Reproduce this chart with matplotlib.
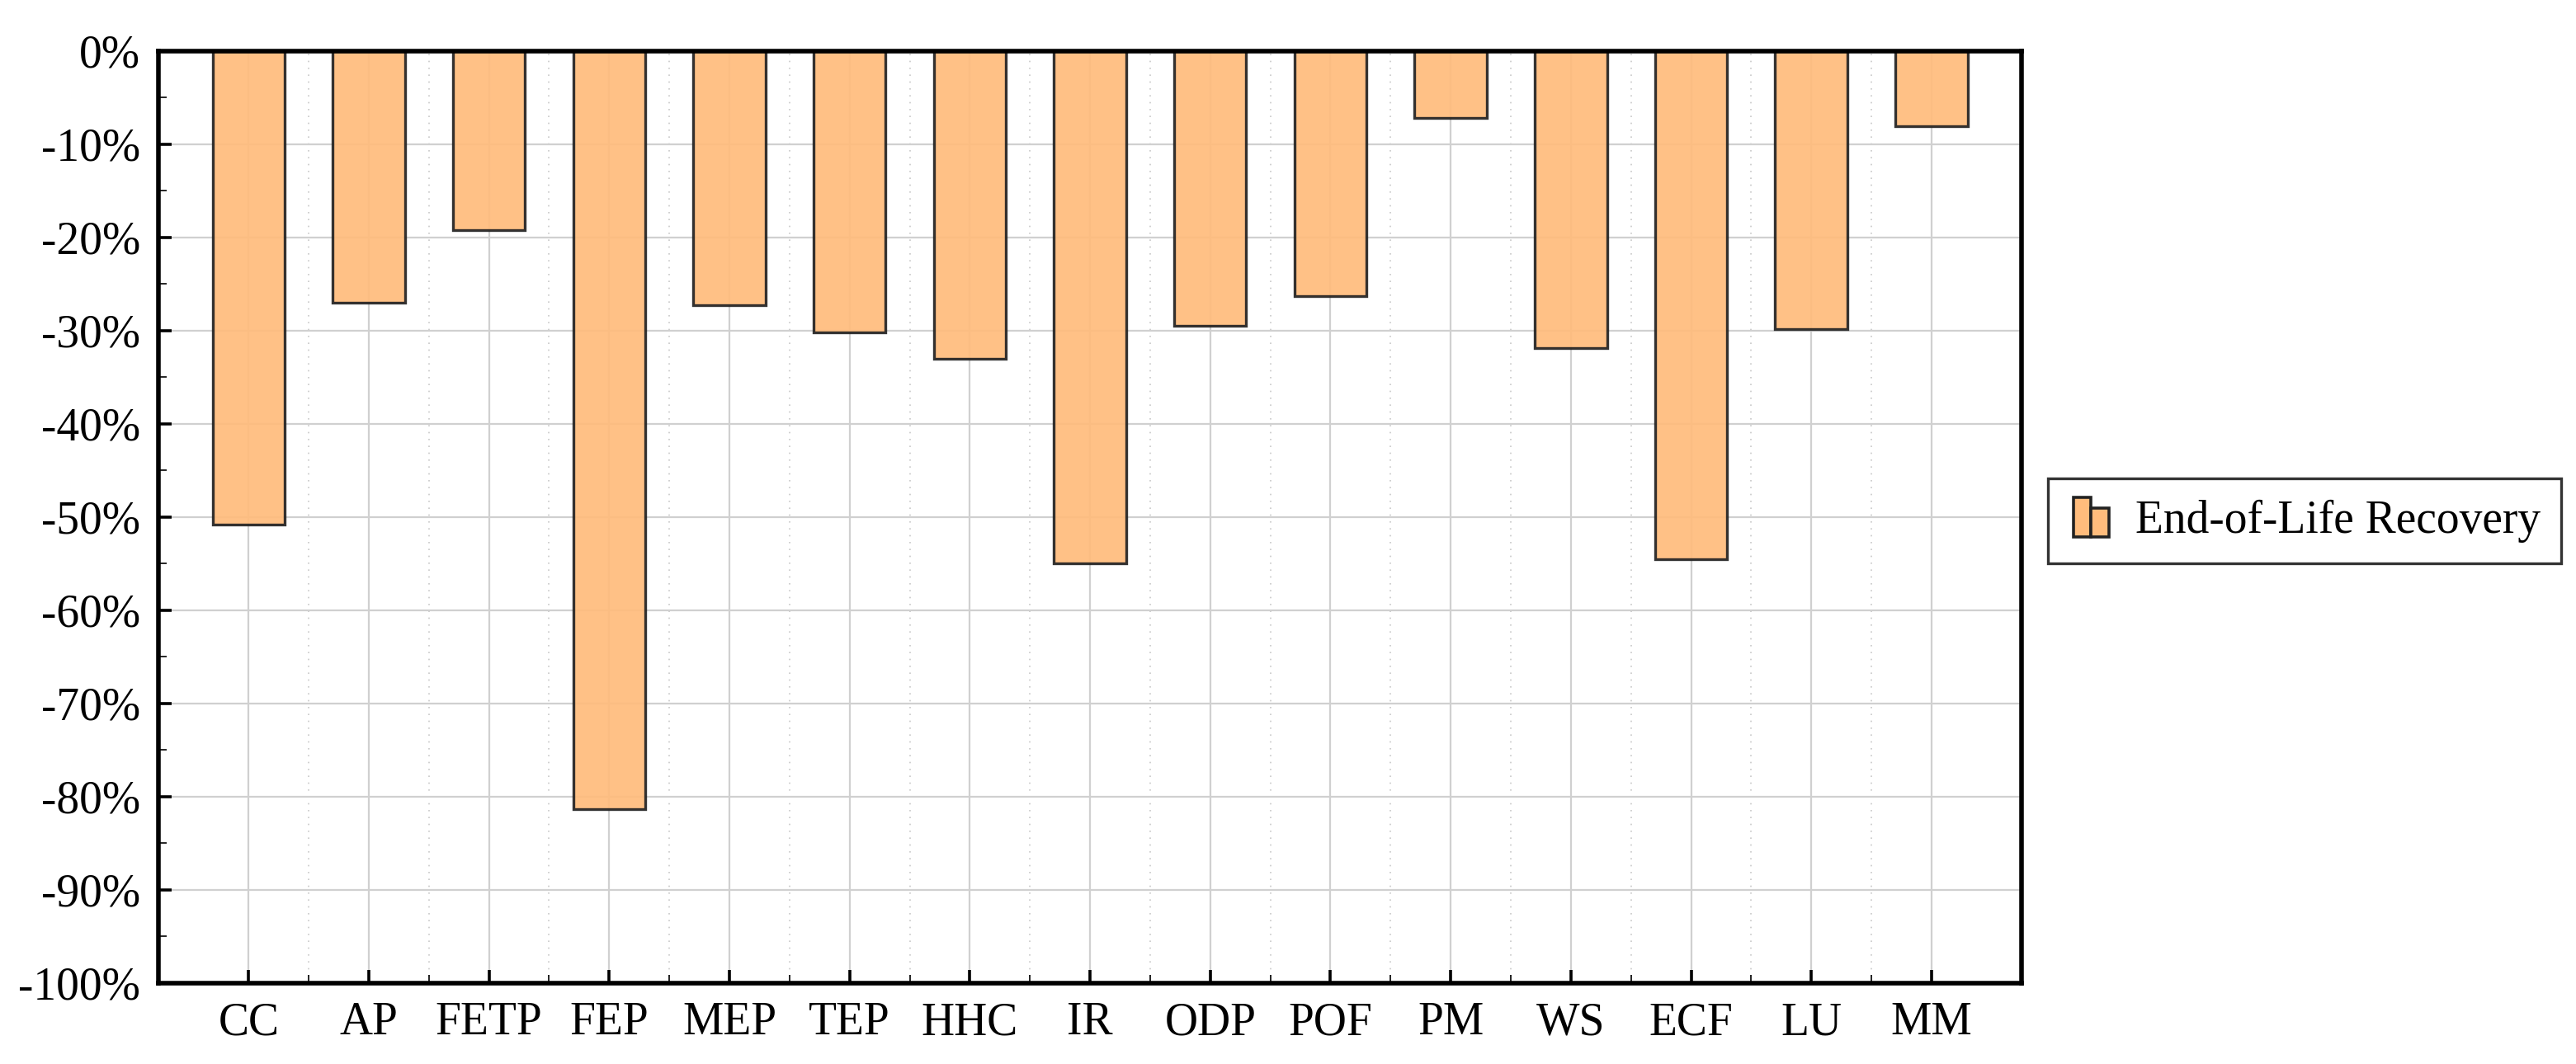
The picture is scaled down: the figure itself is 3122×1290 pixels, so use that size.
import matplotlib.pyplot as plt
from matplotlib.patches import Rectangle
from matplotlib.legend_handler import HandlerBase
from matplotlib.ticker import MultipleLocator, FuncFormatter

categories = ['CC', 'AP', 'FETP', 'FEP', 'MEP', 'TEP', 'HHC', 'IR',
              'ODP', 'POF', 'PM', 'WS', 'ECF', 'LU', 'MM']
eol_recovery = [-50.8, -27.0, -19.2, -81.3, -27.3, -30.2, -33.0, -55.0,
                -29.5, -26.3, -7.2, -31.9, -54.5, -29.8, -8.1]
series_label = 'End-of-Life Recovery'

bar_color = '#ffbc7c'
edge_color = '#222222'


class TwoBarHandler(HandlerBase):
    # legend icon: a tall bar next to a shorter one
    def create_artists(self, legend, orig_handle, xdescent, ydescent,
                       width, height, fontsize, trans):
        w = height * 0.55
        x0 = -xdescent + width * 0.1
        y0 = -ydescent - height * 0.15
        tall = Rectangle((x0, y0), w, height * 1.25, fc=bar_color,
                         ec=edge_color, lw=1.3, transform=trans)
        short = Rectangle((x0 + w, y0), w, height * 0.9, fc=bar_color,
                          ec=edge_color, lw=1.3, transform=trans)
        return [tall, short]


plt.rcParams['font.family'] = ['Liberation Serif', 'DejaVu Serif']

fig = plt.figure(figsize=(15.61, 6.45), dpi=200)
ax = fig.add_axes([0.0615, 0.076, 0.7233, 0.876])

x = list(range(len(categories)))
bars = ax.bar(x, eol_recovery, width=0.6, color=bar_color, alpha=0.92,
              edgecolor=edge_color, linewidth=1.2, zorder=3,
              label=series_label)

ax.set_xlim(-0.75, 14.75)
ax.set_ylim(-100, 0)
ax.set_xticks(x)
ax.set_xticklabels(categories)
ax.set_xticks([i + 0.5 for i in range(len(categories) - 1)], minor=True)
ax.yaxis.set_major_locator(MultipleLocator(10))
ax.yaxis.set_minor_locator(MultipleLocator(5))
ax.yaxis.set_major_formatter(FuncFormatter(lambda v, p: '%d%%' % round(v)))

ax.tick_params(axis='both', which='major', direction='in', length=5.8,
               width=1.3, labelsize=20, pad=8)
ax.tick_params(axis='both', which='minor', direction='in', length=3.6,
               width=0.6)
ax.tick_params(axis='y', which='both', right=False)
ax.tick_params(axis='x', which='both', top=False)

ax.grid(True, which='major', color='#d0d0d0', linewidth=0.8, zorder=0)
ax.grid(True, which='minor', axis='x', color='#c8c8c8', linewidth=0.6,
        linestyle=(0, (1, 4)), zorder=0)
ax.set_axisbelow(True)

for side in ax.spines.values():
    side.set_linewidth(2.0)
    side.set_color('black')
    side.set_zorder(5)

leg = ax.legend(handler_map={bars: TwoBarHandler()}, loc='center left',
                bbox_to_anchor=(1.002, 0.496), fontsize=20, frameon=True,
                fancybox=False, edgecolor='black', handlelength=1.0,
                handletextpad=0.45, borderpad=0.45)
leg.get_frame().set_linewidth(1.2)

fig.savefig('out.png', dpi=200)
